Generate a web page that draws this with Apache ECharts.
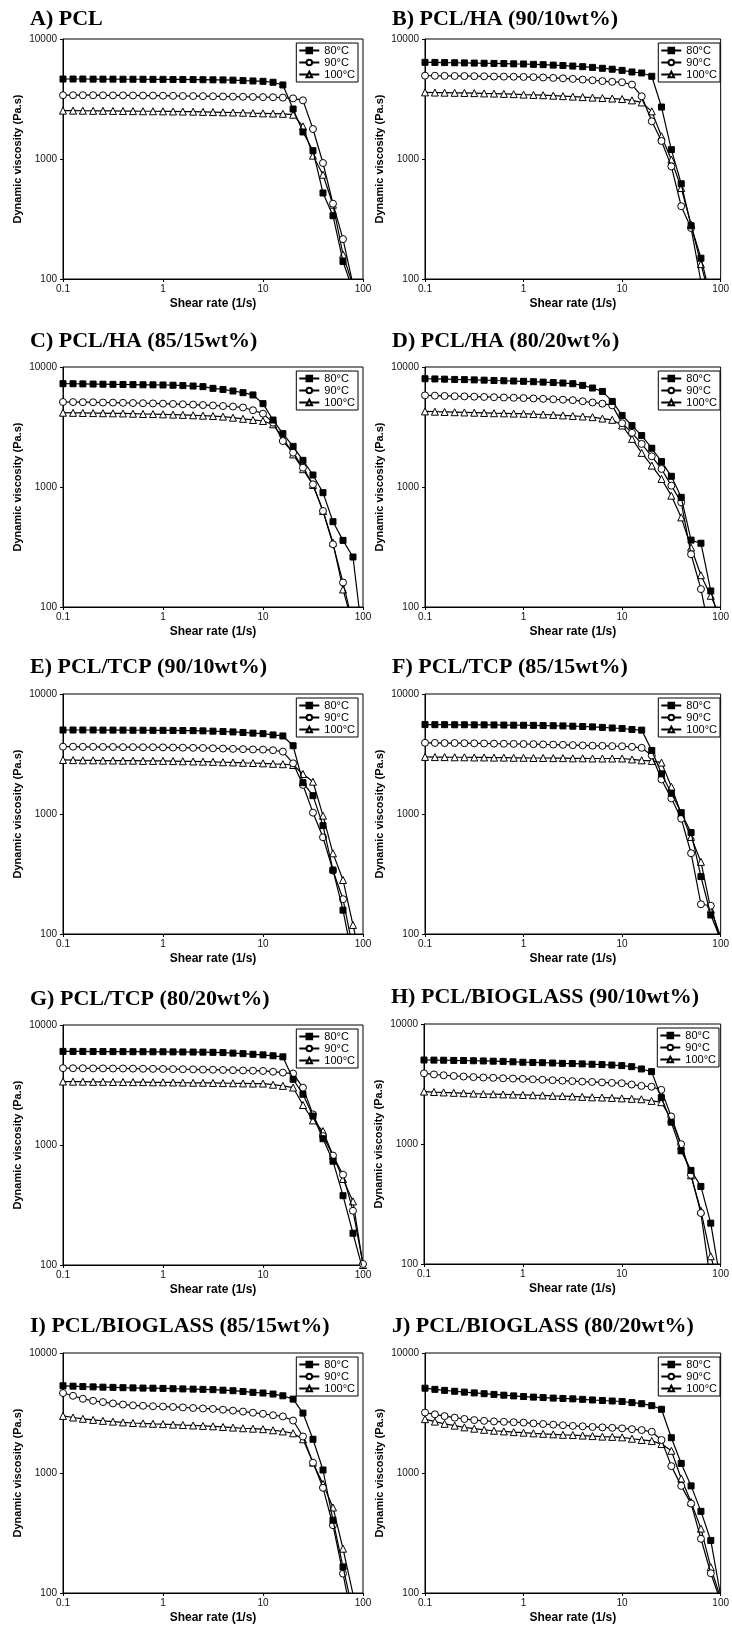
<!DOCTYPE html>
<html><head><meta charset="utf-8">
<script src="https://cdn.jsdelivr.net/npm/echarts@6/dist/echarts.min.js"></script>
<style>html,body{margin:0;padding:0;background:#fff}#c{width:732px;height:1633px}</style>
</head><body><div id="c"></div>
<script>
// ---------- DATA ----------
const shearRate = [0.1,0.126,0.158,0.2,0.251,0.316,0.398,0.501,0.631,0.794,1,1.26,1.58,2,2.51,3.16,3.98,5.01,6.31,7.94,10,12.6,15.8,20,25.1,31.6,39.8,50.1,63.1,79.4,100];
const tempNames = ['80°C','90°C','100°C'];
const panelTitles = ['A) PCL','B) PCL/HA (90/10wt%)','C) PCL/HA (85/15wt%)','D) PCL/HA (80/20wt%)','E) PCL/TCP (90/10wt%)','F) PCL/TCP (85/15wt%)','G) PCL/TCP (80/20wt%)','H) PCL/BIOGLASS (90/10wt%)','I) PCL/BIOGLASS (85/15wt%)','J) PCL/BIOGLASS (80/20wt%)'];
const xAxisTitle = 'Shear rate (1/s)';
const yAxisTitle = 'Dynamic viscosity (Pa.s)';

const A80 = [4640,4640,4640,4630,4630,4630,4620,4620,4620,4610,4610,4600,4600,4590,4580,4570,4560,4540,4500,4470,4440,4360,4140,2610,1680,1172,521,337,140,80,40];
const A90 = [3400,3400,3400,3400,3395,3390,3390,3385,3380,3375,3370,3360,3350,3345,3340,3330,3320,3310,3300,3290,3280,3270,3250,3200,3080,1778,926,424,215,90,40];
const A100 = [2530,2530,2525,2520,2520,2515,2510,2505,2500,2500,2495,2490,2485,2480,2470,2460,2450,2440,2430,2410,2400,2390,2380,2340,1870,1066,740,416,160,88,40];

const B80 = [6390,6380,6360,6340,6320,6300,6280,6260,6240,6210,6190,6150,6110,6060,6010,5950,5880,5800,5700,5600,5480,5310,5210,4890,2710,1197,622,278,149,70,35];
const B90 = [4950,4940,4930,4920,4910,4900,4890,4870,4860,4850,4830,4810,4780,4740,4700,4650,4590,4530,4460,4400,4360,4170,3330,2060,1413,868,404,266,95,50,25];
const B100 = [3590,3580,3570,3560,3550,3540,3520,3510,3490,3470,3440,3420,3400,3370,3340,3310,3280,3250,3220,3190,3160,3080,2960,2495,1545,987,573,284,133,65,30];

const C80 = [7260,7250,7230,7210,7190,7170,7150,7130,7110,7100,7080,7050,7000,6940,6860,6640,6500,6310,6110,5850,4950,3615,2783,2181,1668,1259,897,514,359,261,52];
const C90 = [5110,5100,5090,5080,5060,5050,5030,5010,4990,4970,4950,4920,4890,4860,4820,4780,4730,4680,4600,4360,4084,3437,2415,1932,1448,1052,631,333,160,72,35];
const C100 = [4160,4150,4140,4130,4120,4110,4100,4080,4060,4050,4030,4010,3990,3960,3930,3900,3860,3780,3700,3620,3550,3330,2576,1870,1407,1040,631,344,140,70,35];

const D80 = [7985,7950,7920,7880,7850,7810,7770,7720,7680,7640,7600,7540,7480,7420,7350,7260,7030,6680,6260,5168,3946,3252,2683,2104,1629,1228,820,361,340,136,70];
const D90 = [5800,5770,5740,5710,5690,5660,5630,5600,5570,5540,5510,5470,5430,5380,5340,5290,5180,5060,4950,4790,3400,2826,2286,1803,1414,1026,745,275,141,55,25];
const D100 = [4265,4240,4220,4200,4180,4160,4140,4120,4110,4090,4080,4050,4020,3990,3950,3910,3870,3820,3720,3630,3252,2518,1925,1508,1167,847,558,313,184,124,80];

const E80 = [5010,5010,5010,5010,5000,5000,5000,4990,4990,4980,4980,4970,4960,4950,4930,4900,4870,4830,4780,4720,4670,4560,4470,3706,1824,1422,800,341,158,60,30];
const E90 = [3640,3640,3630,3630,3620,3620,3610,3610,3600,3600,3590,3580,3570,3560,3550,3530,3510,3490,3470,3450,3440,3400,3310,2644,1746,1026,640,338,195,75,35];
const E100 = [2820,2810,2800,2800,2790,2790,2780,2780,2770,2770,2770,2760,2750,2740,2730,2720,2700,2690,2670,2660,2644,2620,2600,2560,2154,1858,968,470,282,119,50];

const F80 = [5560,5550,5550,5540,5540,5530,5530,5520,5510,5500,5490,5480,5460,5440,5420,5390,5360,5320,5270,5210,5160,5060,5000,3384,2161,1487,1026,700,301,144,90];
const F90 = [3920,3910,3900,3900,3890,3880,3870,3860,3850,3840,3830,3820,3800,3790,3770,3750,3730,3710,3700,3680,3670,3630,3560,3076,1941,1350,914,471,177,172,85];
const F100 = [2990,2980,2980,2970,2970,2960,2960,2950,2950,2940,2940,2930,2930,2920,2920,2910,2910,2900,2900,2900,2900,2850,2800,2770,2680,1686,1006,644,399,161,95];

const G80 = [6025,6020,6020,6010,6010,6000,6000,5990,5990,5980,5980,5970,5960,5950,5940,5920,5890,5830,5770,5700,5640,5540,5430,3530,2648,1742,1128,733,378,184,90];
const G90 = [4370,4360,4360,4350,4350,4340,4340,4330,4320,4310,4300,4290,4280,4270,4250,4240,4220,4200,4180,4160,4140,4080,4010,3940,3006,1800,1186,817,566,283,102];
const G100 = [3380,3370,3370,3360,3360,3350,3350,3340,3340,3330,3330,3320,3310,3300,3300,3290,3280,3270,3260,3250,3250,3180,3110,3010,2154,1603,1306,817,521,339,100];

const H80 = [5010,5000,4990,4970,4960,4940,4920,4900,4880,4840,4800,4780,4760,4730,4700,4680,4650,4620,4590,4550,4500,4410,4220,4010,2437,1520,877,603,443,219,70];
const H90 = [3880,3800,3740,3690,3650,3610,3580,3560,3530,3510,3490,3460,3430,3400,3370,3340,3310,3290,3260,3230,3210,3130,3050,3000,2826,1695,997,553,266,70,35];
const H100 = [2735,2710,2690,2670,2650,2630,2610,2600,2590,2580,2565,2550,2540,2520,2510,2490,2470,2450,2440,2420,2400,2380,2360,2287,2232,1619,972,548,278,116,60];

const I80 = [5330,5290,5250,5220,5190,5170,5140,5120,5100,5090,5070,5040,5020,5000,4980,4950,4900,4850,4780,4700,4640,4550,4400,4129,3157,1910,1059,404,165,70,35];
const I90 = [4640,4400,4150,4000,3900,3800,3720,3660,3630,3600,3580,3550,3520,3480,3450,3420,3370,3310,3250,3180,3113,3030,2960,2736,2014,1220,753,367,145,55,25];
const I100 = [2990,2900,2830,2770,2720,2680,2640,2610,2590,2570,2553,2530,2510,2490,2470,2450,2420,2390,2360,2340,2318,2270,2220,2143,1910,1220,809,516,234,98,50];

const J80 = [5090,4980,4880,4800,4720,4650,4580,4520,4450,4390,4337,4290,4250,4210,4180,4150,4110,4060,4020,3980,3943,3860,3780,3640,3397,1968,1202,781,479,274,95];
const J90 = [3190,3080,2980,2890,2820,2760,2720,2690,2670,2650,2630,2590,2560,2530,2500,2470,2450,2420,2400,2380,2355,2320,2280,2206,1885,1141,781,556,283,146,85];
const J100 = [2810,2680,2570,2480,2400,2340,2290,2250,2220,2190,2168,2140,2120,2100,2080,2070,2050,2030,2010,2000,1982,1930,1885,1850,1742,1531,899,574,344,164,90];

const panelValues = [
  [A80,A90,A100],[B80,B90,B100],[C80,C90,C100],[D80,D90,D100],[E80,E90,E100],
  [F80,F90,F100],[G80,G90,G100],[H80,H90,H100],[I80,I90,I100],[J80,J90,J100]
];

// ---------- LAYOUT ----------
const gridTop = [39,39,367,367,694,694,1025,1024,1353,1353];
const gridLeft = [63,425,63,425,63,425,63,424,63,425];
const gridW = 300, gridH = 240;
const titleTop = [8,8,330,330,656,656,988,986,1315,1315];
const titleLeft = [30,392,30,392,30,392,30,391,30,392];

const symbolStyles = [
  {symbol:'rect', symbolSize:6, itemStyle:{color:'#000', borderColor:'#000', borderWidth:1}},
  {symbol:'circle', symbolSize:7, itemStyle:{color:'#fff', borderColor:'#000', borderWidth:1}},
  {symbol:'triangle', symbolSize:7, itemStyle:{color:'#fff', borderColor:'#000', borderWidth:1}}
];

const fmt = v => String(Number(Number(v).toPrecision(6)));
const option = {
  animation:false, backgroundColor:'#fff',
  title:[], grid:[], xAxis:[], yAxis:[], legend:[], series:[]
};
for (let p = 0; p < 10; p++) {
  option.title.push({text:panelTitles[p], left:titleLeft[p], top:titleTop[p], padding:0,
    textStyle:{fontFamily:'Liberation Serif', fontWeight:'bold', fontSize:22, color:'#000'}});
  option.grid.push({left:gridLeft[p], top:gridTop[p], width:gridW, height:gridH, show:true,
    borderColor:'#000', borderWidth:1, backgroundColor:'transparent', containLabel:false});
  option.xAxis.push({type:'log', logBase:10, gridIndex:p, min:0.1, max:100,
    name:xAxisTitle, nameLocation:'middle', nameGap:19,
    nameTextStyle:{fontFamily:'Liberation Sans', fontWeight:'bold', fontSize:12, color:'#000'},
    axisLine:{show:true, lineStyle:{color:'#000', width:1}},
    axisTick:{show:true, inside:false, length:3, lineStyle:{color:'#000'}},
    minorTick:{show:false}, splitLine:{show:false},
    axisLabel:{fontFamily:'Liberation Sans', fontSize:10, color:'#111', margin:5, formatter:fmt, showMinLabel:true, showMaxLabel:true}});
  option.yAxis.push({type:'log', logBase:10, gridIndex:p, min:100, max:10000,
    name:yAxisTitle, nameLocation:'middle', nameGap:40,
    nameTextStyle:{fontFamily:'Liberation Sans', fontWeight:'bold', fontSize:11, color:'#000'},
    axisLine:{show:true, lineStyle:{color:'#000', width:1}},
    axisTick:{show:true, inside:false, length:3, lineStyle:{color:'#000'}},
    minorTick:{show:false}, splitLine:{show:false},
    axisLabel:{fontFamily:'Liberation Sans', fontSize:10, color:'#111', margin:6, formatter:fmt, showMinLabel:true, showMaxLabel:true}});
  const rightEdge = gridLeft[p] + gridW;
  option.legend.push({orient:'vertical', right:732 - (rightEdge - 5), top:gridTop[p] + 4,
    data:tempNames, itemWidth:20, itemHeight:7, itemGap:1, padding:[2,3,2,2],
    borderColor:'#000', borderWidth:1, backgroundColor:'#fff', selectedMode:false,
    textStyle:{fontFamily:'Liberation Sans', fontSize:11, color:'#000', lineHeight:11}});
  for (let s = 0; s < 3; s++) {
    const vals = panelValues[p][s];
    option.series.push(Object.assign({
      type:'line', name:tempNames[s], xAxisIndex:p, yAxisIndex:p, clip:true,
      data: shearRate.map((x, i) => [x, vals[i]]),
      lineStyle:{color:'#000', width:1.2}, showSymbol:true, showAllSymbol:true,
      emphasis:{disabled:true}, z: 3 - s
    }, JSON.parse(JSON.stringify(symbolStyles[s]))));
  }
}
const chart = echarts.init(document.getElementById('c'), null, {renderer:'canvas'});
chart.setOption(option);
</script>
</body></html>
